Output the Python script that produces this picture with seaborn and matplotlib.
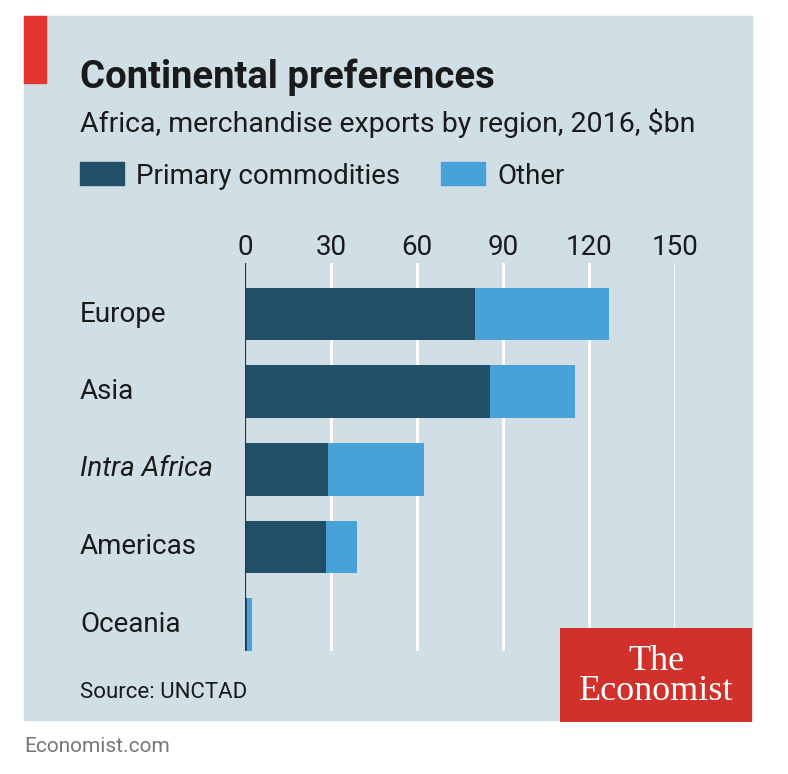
import matplotlib
matplotlib.use("Agg")
import matplotlib.pyplot as plt
import seaborn as sns
import pandas as pd
from matplotlib.patches import Rectangle

# data ($bn)
regions = ["Europe", "Asia", "Intra Africa", "Americas", "Oceania"]
primary = [80.2, 85.3, 28.7, 28.3, 0.7]
other = [46.7, 29.7, 33.6, 10.7, 1.6]
ticks = [0, 30, 60, 90, 120, 150]

total = [p + o for p, o in zip(primary, other)]
df = pd.DataFrame({"region": regions, "primary": primary, "total": total})

bg = "#d0dee6"
dark = "#224f68"
light = "#48a2d8"
txt = "#1a1a1a"

sns.set_style("white")
plt.rcParams["font.family"] = ["Roboto", "DejaVu Sans"]

W, H = 788, 774
fig = plt.figure(figsize=(W / 100, H / 100), dpi=100)
fig.patch.set_facecolor("white")

def fx(px):
    return px / W

def fy(py):
    return 1 - py / H

# panel background and red tag
fig.patches.append(Rectangle((fx(24), fy(720)), fx(752) - fx(24), fy(16) - fy(720),
                             transform=fig.transFigure, color=bg, zorder=-2))
fig.patches.append(Rectangle((fx(24), fy(83)), fx(46) - fx(24), fy(16) - fy(83),
                             transform=fig.transFigure, color="#e3342f", zorder=-1))

ax = fig.add_axes([fx(245.3), fy(651), fx(675) - fx(245.3), fy(263) - fy(651)])
ax.set_facecolor("none")
ax.set_zorder(1)

sns.barplot(data=df, x="total", y="region", color=light, width=0.68,
            saturation=1, linewidth=0, ax=ax, zorder=3)
sns.barplot(data=df, x="primary", y="region", color=dark, width=0.68,
            saturation=1, linewidth=0, ax=ax, zorder=4)

ax.set_xlim(0, 150)
ax.set_ylim(4.34, -0.657)
ax.set_xticks(ticks)
ax.xaxis.tick_top()
ax.tick_params(axis="x", length=0, pad=1.7, labelsize=20, colors=txt)
ax.tick_params(axis="y", length=0)
ax.set_yticklabels([])
ax.set_xlabel("")
ax.set_ylabel("")
for s in ax.spines.values():
    s.set_visible(False)
for t in ticks[1:]:
    ax.axvline(t, color="white", lw=2.2, zorder=1)
ax.axvline(0, color="#333333", lw=1.6, zorder=5)

# category labels, left aligned at panel margin
for i, r in enumerate(regions):
    fig.text(fx(80), fy(314 + i * 77.6), r, fontsize=20, color=txt, va="center",
             ha="left", style="italic" if r == "Intra Africa" else "normal")

# titles
fig.text(fx(80), fy(88), "Continental preferences", fontsize=27.5, fontweight="bold",
         color=txt, va="baseline")
fig.text(fx(80), fy(132), "Africa, merchandise exports by region, 2016, $bn",
         fontsize=20.5, color=txt, va="baseline")

# legend
fig.patches.append(Rectangle((fx(80), fy(185)), fx(44), fy(162) - fy(185),
                             transform=fig.transFigure, color=dark))
fig.text(fx(136), fy(184), "Primary commodities", fontsize=20, color=txt, va="baseline")
fig.patches.append(Rectangle((fx(441), fy(185)), fx(44), fy(162) - fy(185),
                             transform=fig.transFigure, color=light))
fig.text(fx(497), fy(184), "Other", fontsize=20, color=txt, va="baseline")

fig.text(fx(80), fy(698), "Source: UNCTAD", fontsize=16, color=txt, va="baseline")
fig.text(fx(24), fy(752), "Economist.com", fontsize=15, color="#777777", va="baseline")

# logo box, above the axes so gridlines stop behind it
logo = fig.add_axes([fx(560), fy(722), fx(752) - fx(560), fy(628) - fy(722)])
logo.set_zorder(5)
logo.set_facecolor("#d0312a")
logo.set_xticks([])
logo.set_yticks([])
for s in logo.spines.values():
    s.set_visible(False)
logo.text(0.5, 0.553, "The", fontsize=26, color="white", ha="center",
          va="baseline", family="Liberation Serif", transform=logo.transAxes)
logo.text(0.5, 0.234, "Economist", fontsize=26, color="white", ha="center",
          va="baseline", family="Liberation Serif", transform=logo.transAxes)

fig.savefig("out.png", dpi=100, facecolor=fig.get_facecolor())
